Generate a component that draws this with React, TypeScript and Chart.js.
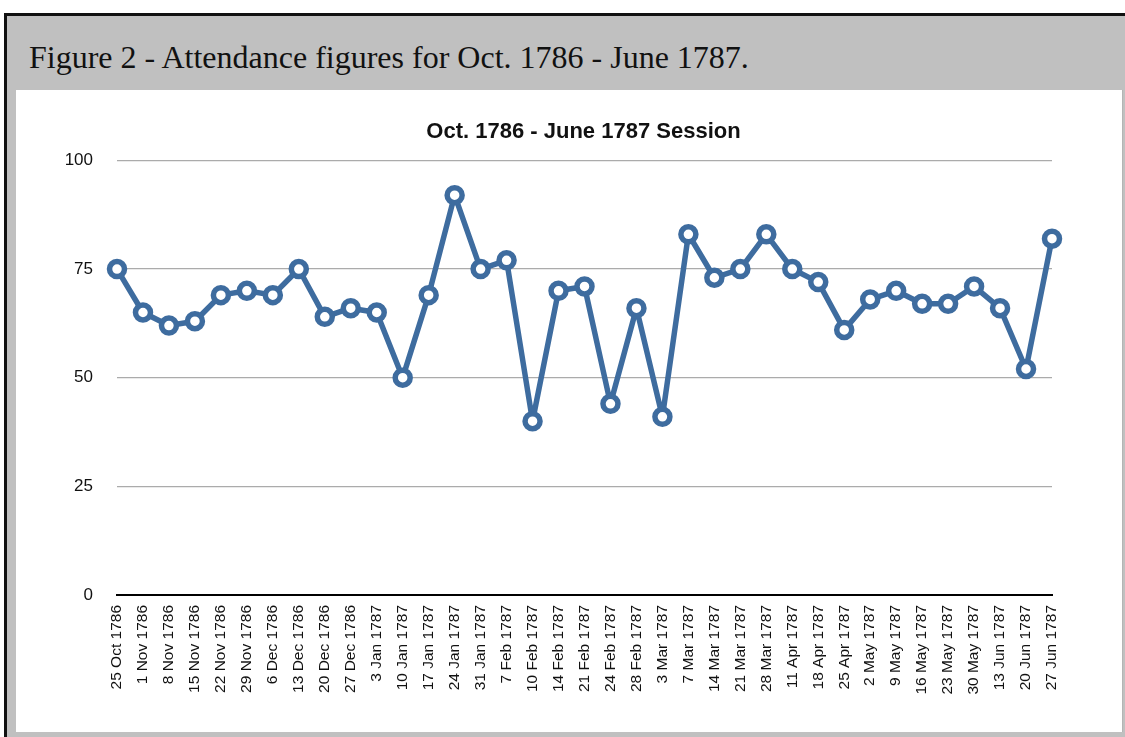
import React, { useEffect, useRef } from "react";
import { Chart, registerables } from "chart.js";

Chart.register(...registerables);

const categories: string[] = [
  "25 Oct 1786", "1 Nov 1786", "8 Nov 1786", "15 Nov 1786", "22 Nov 1786", "29 Nov 1786",
  "6 Dec 1786", "13 Dec 1786", "20 Dec 1786", "27 Dec 1786", "3 Jan 1787", "10 Jan 1787",
  "17 Jan 1787", "24 Jan 1787", "31 Jan 1787", "7 Feb 1787", "10 Feb 1787", "14 Feb 1787",
  "21 Feb 1787", "24 Feb 1787", "28 Feb 1787", "3 Mar 1787", "7 Mar 1787", "14 Mar 1787",
  "21 Mar 1787", "28 Mar 1787", "11 Apr 1787", "18 Apr 1787", "25 Apr 1787", "2 May 1787",
  "9 May 1787", "16 May 1787", "23 May 1787", "30 May 1787", "13 Jun 1787", "20 Jun 1787",
  "27 Jun 1787",
];

const attendance: number[] = [
  75, 65, 62, 63, 69, 70, 69, 75, 64, 66, 65, 50, 69, 92, 75, 77, 40, 70, 71, 44, 66, 41,
  83, 73, 75, 83, 75, 72, 61, 68, 70, 67, 67, 71, 66, 52, 82,
];

const yTicks: number[] = [0, 25, 50, 75, 100];

const captionText = "Figure 2 - Attendance figures for Oct. 1786 - June 1787.";
const chartTitle = "Oct. 1786 - June 1787 Session";

export default function App() {
  const canvasRef = useRef<HTMLCanvasElement | null>(null);

  useEffect(() => {
    if (!canvasRef.current) return;
    const chart = new Chart(canvasRef.current, {
      type: "line",
      data: {
        labels: categories,
        datasets: [
          {
            data: attendance,
            borderColor: "#3e6c9f",
            borderWidth: 5.5,
            borderJoinStyle: "round",
            borderCapStyle: "round",
            pointRadius: 7.5,
            pointBorderWidth: 5.5,
            pointBackgroundColor: "#ffffff",
            pointBorderColor: "#3e6c9f",
            tension: 0,
            clip: false as any,
            yAxisID: "y",
          },
        ],
      },
      options: {
        animation: false,
        responsive: false,
        layout: { padding: 0 },
        plugins: {
          legend: { display: false },
          tooltip: { enabled: false },
          title: {
            display: true,
            text: chartTitle,
            color: "#111111",
            font: { family: "'Liberation Sans', Arial, sans-serif", size: 22, weight: "bold" },
            padding: { top: 29, bottom: 15 },
          },
        },
        scales: {
          x: {
            type: "category",
            offset: false,
            grid: { display: false, drawTicks: false },
            border: { display: true, color: "#000000", width: 2 },
            ticks: {
              autoSkip: false,
              maxRotation: 90,
              minRotation: 90,
              padding: 10,
              color: "#111111",
              font: { family: "'Liberation Sans', Arial, sans-serif", size: 15.5 },
            },
            afterFit: (s: any) => {
              s.height = 137;
            },
          },
          y: {
            position: "left",
            min: 0,
            max: 100,
            afterBuildTicks: (s: any) => {
              s.ticks = yTicks.map((v) => ({ value: v }));
            },
            grid: {
              drawTicks: false,
              lineWidth: 1.2,
              color: (ctx: any) => (ctx.tick && ctx.tick.value === 0 ? "rgba(0,0,0,0)" : "#ababab"),
            },
            border: { display: false },
            ticks: {
              padding: 24,
              color: "#111111",
              font: { family: "'Liberation Sans', Arial, sans-serif", size: 17 },
            },
            afterFit: (s: any) => {
              s.width = 75;
            },
          },
          yRight: {
            position: "right",
            min: 0,
            max: 100,
            grid: { display: false, drawTicks: false },
            border: { display: false },
            ticks: { display: false },
            afterFit: (s: any) => {
              s.width = 73;
            },
          },
        },
      },
    });
    return () => chart.destroy();
  }, []);

  return (
    <div
      style={{
        position: "absolute",
        left: 0,
        top: 0,
        width: 1125,
        height: 737,
        overflow: "hidden",
        background: "#ffffff",
      }}
    >
      <div
        style={{
          position: "absolute",
          left: 4,
          top: 13,
          width: 1121,
          height: 724,
          boxSizing: "border-box",
          background: "#c0c0c0",
          borderTop: "3px solid #111",
          borderLeft: "3px solid #111",
        }}
      />
      <div
        style={{
          position: "absolute",
          left: 29,
          top: 41,
          fontFamily: "'Liberation Serif', 'Times New Roman', serif",
          fontSize: 32,
          lineHeight: "32px",
          color: "#111111",
          whiteSpace: "nowrap",
        }}
      >
        {captionText}
      </div>
      <div
        style={{
          position: "absolute",
          left: 16,
          top: 90,
          width: 1107,
          height: 642,
          boxSizing: "border-box",
          background: "#ffffff",
          borderRight: "1px solid #b4b4b4",
        }}
      />
      <canvas
        ref={canvasRef}
        width={1083}
        height={642}
        style={{ position: "absolute", left: 42, top: 90, width: 1083, height: 642 }}
      />
    </div>
  );
}
